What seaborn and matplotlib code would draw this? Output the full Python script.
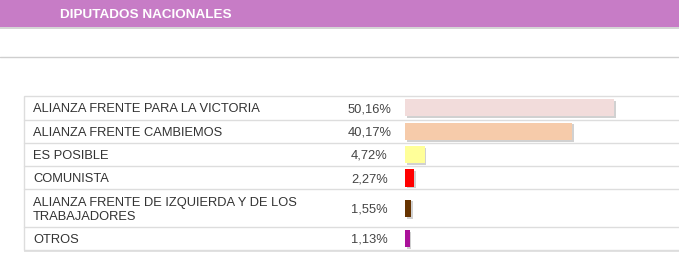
import matplotlib
matplotlib.use("Agg")
import matplotlib.pyplot as plt
import matplotlib.patheffects as pe
import seaborn as sns
import pandas as pd

# ---- data ----
parties = ["ALIANZA FRENTE PARA LA VICTORIA", "ALIANZA FRENTE CAMBIEMOS", "ES POSIBLE",
           "COMUNISTA", "ALIANZA FRENTE DE IZQUIERDA Y DE LOS\nTRABAJADORES", "OTROS"]
values = [50.16, 40.17, 4.72, 2.27, 1.55, 1.13]
pct_labels = ["50,16%", "40,17%", "4,72%", "2,27%", "1,55%", "1,13%"]
colors = ["#F2DCDB", "#F6CBAA", "#FFFF99", "#FF0000", "#663300", "#AA1199"]
title = "DIPUTADOS NACIONALES"

# ---- layout (pixels) ----
W, H = 679, 277
row_edges = [96, 119.5, 143, 166.3, 189.3, 227.3, 250]
row_centers = [(a + b) / 2 for a, b in zip(row_edges[:-1], row_edges[1:])]

sns.set_theme(style="white")
plt.rcParams["font.family"] = ["Liberation Sans", "DejaVu Sans"]

fig = plt.figure(figsize=(W / 100, H / 100), dpi=100)
bg = fig.add_axes([0, 0, 1, 1])
bg.set_xlim(0, W)
bg.set_ylim(H, 0)
bg.axis("off")

# header band
bg.add_patch(plt.Rectangle((0, 0), W, 26.5, facecolor="#C77CC6", edgecolor="none",
                           path_effects=[pe.SimplePatchShadow(offset=(0, -1.5), alpha=0.18, shadow_rgbFace="k"),
                                         pe.Normal()]))
bg.text(60, 14.5, title, color="white", fontsize=9.7, fontweight="bold", va="center", ha="left")

# separator line
bg.plot([0, W], [56.5, 56.5], color="#CFCFCF", lw=1)

# table
bg.add_patch(plt.Rectangle((24, 96), W - 24 + 5, 154, facecolor="white", edgecolor="#DDDDDD", lw=1,
                           path_effects=[pe.SimplePatchShadow(offset=(0, -1.5), alpha=0.12, shadow_rgbFace="k"),
                                         pe.Normal()]))
for y in row_edges[1:-1]:
    bg.plot([24, W], [y, y], color="#DDDDDD", lw=1)

for name, pl, yc in zip(parties, pct_labels, row_centers):
    bg.text(33, yc + 1.3, name, color="#333333", fontsize=9.3, va="center", ha="left", linespacing=1.2)
    bg.text(369.5, yc + 1.3, pl, color="#444444", fontsize=9.3, va="center", ha="center")

# bars
bx0 = 405
px_per_pct = 209 / 50.16
ax = fig.add_axes([bx0 / W, 1 - 250 / H, (W - bx0) / W, 154 / H])
df = pd.DataFrame({"party": parties, "value": values, "pos": row_centers})
sns.barplot(data=df, x="value", y="pos", hue="party", palette=colors, orient="h",
            native_scale=True, width=17.3 / 23.0, legend=False, dodge=False, ax=ax,
            saturation=1, edgecolor="none")
ax.set_xlim(0, (W - bx0) / px_per_pct)
ax.set_ylim(250, 96)
ax.axis("off")
ax.patch.set_alpha(0)
for p in ax.patches:
    p.set_path_effects([pe.SimplePatchShadow(offset=(1.2, -1.2), alpha=0.2, shadow_rgbFace="k"), pe.Normal()])

fig.savefig("out.png", dpi=100)
